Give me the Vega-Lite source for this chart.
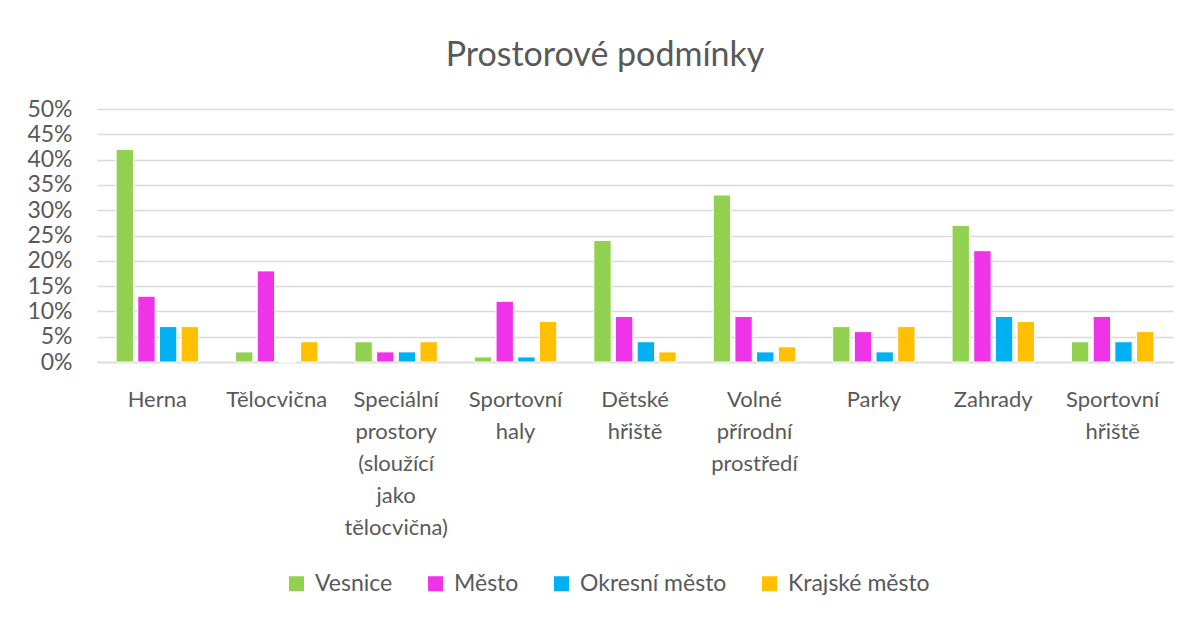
{
  "$schema": "https://vega.github.io/schema/vega-lite/v6.json",
  "autosize": {"type": "none"},
  "width": 1076,
  "height": 253,
  "padding": {"left": 97, "top": 109, "right": 18, "bottom": 256},
  "background": "white",
  "title": {"text": "Prostorové podmínky", "fontSize": 34, "fontWeight": "normal", "color": "#595959", "font": "Lato", "offset": 25, "dx": -30},
  "data": {"values": [
    {"cat": "Herna", "s": "Vesnice", "v": 0.42}, {"cat": "Herna", "s": "Město", "v": 0.13}, {"cat": "Herna", "s": "Okresní město", "v": 0.07}, {"cat": "Herna", "s": "Krajské město", "v": 0.07},
    {"cat": "Tělocvična", "s": "Vesnice", "v": 0.02}, {"cat": "Tělocvična", "s": "Město", "v": 0.18}, {"cat": "Tělocvična", "s": "Okresní město", "v": 0.0}, {"cat": "Tělocvična", "s": "Krajské město", "v": 0.04},
    {"cat": "Speciální prostory (sloužící jako tělocvična)", "s": "Vesnice", "v": 0.04}, {"cat": "Speciální prostory (sloužící jako tělocvična)", "s": "Město", "v": 0.02}, {"cat": "Speciální prostory (sloužící jako tělocvična)", "s": "Okresní město", "v": 0.02}, {"cat": "Speciální prostory (sloužící jako tělocvična)", "s": "Krajské město", "v": 0.04},
    {"cat": "Sportovní haly", "s": "Vesnice", "v": 0.01}, {"cat": "Sportovní haly", "s": "Město", "v": 0.12}, {"cat": "Sportovní haly", "s": "Okresní město", "v": 0.01}, {"cat": "Sportovní haly", "s": "Krajské město", "v": 0.08},
    {"cat": "Dětské hřiště", "s": "Vesnice", "v": 0.24}, {"cat": "Dětské hřiště", "s": "Město", "v": 0.09}, {"cat": "Dětské hřiště", "s": "Okresní město", "v": 0.04}, {"cat": "Dětské hřiště", "s": "Krajské město", "v": 0.02},
    {"cat": "Volné přírodní prostředí", "s": "Vesnice", "v": 0.33}, {"cat": "Volné přírodní prostředí", "s": "Město", "v": 0.09}, {"cat": "Volné přírodní prostředí", "s": "Okresní město", "v": 0.02}, {"cat": "Volné přírodní prostředí", "s": "Krajské město", "v": 0.03},
    {"cat": "Parky", "s": "Vesnice", "v": 0.07}, {"cat": "Parky", "s": "Město", "v": 0.06}, {"cat": "Parky", "s": "Okresní město", "v": 0.02}, {"cat": "Parky", "s": "Krajské město", "v": 0.07},
    {"cat": "Zahrady", "s": "Vesnice", "v": 0.27}, {"cat": "Zahrady", "s": "Město", "v": 0.22}, {"cat": "Zahrady", "s": "Okresní město", "v": 0.09}, {"cat": "Zahrady", "s": "Krajské město", "v": 0.08},
    {"cat": "Sportovní hřiště", "s": "Vesnice", "v": 0.04}, {"cat": "Sportovní hřiště", "s": "Město", "v": 0.09}, {"cat": "Sportovní hřiště", "s": "Okresní město", "v": 0.04}, {"cat": "Sportovní hřiště", "s": "Krajské město", "v": 0.06}
  ]},
  "mark": {"type": "bar", "stroke": "white", "strokeWidth": 1},
  "encoding": {
    "x": {"field": "cat", "type": "nominal", "sort": null, "scale": {"paddingInner": 0.31, "paddingOuter": 0.16},
      "axis": {"title": null, "labelAngle": 0, "labelExpr": "split(datum.label, ' ')", "labelFont": "Lato", "labelFontSize": 22, "labelColor": "#595959", "labelLineHeight": 32, "labelPadding": 27, "ticks": false, "domainColor": "#d9d9d9", "domainWidth": 1.5, "labelBaseline": "top"}},
    "xOffset": {"field": "s", "type": "nominal", "sort": ["Vesnice", "Město", "Okresní město", "Krajské město"], "scale": {"paddingInner": 0.2}},
    "y": {"field": "v", "type": "quantitative", "scale": {"domain": [0, 0.5]},
      "axis": {"title": null, "format": ".0%", "values": [0, 0.05, 0.1, 0.15, 0.2, 0.25, 0.3, 0.35, 0.4, 0.45, 0.5], "labelOverlap": false, "labelFont": "Lato", "labelFontSize": 23, "labelColor": "#595959", "labelPadding": 25, "ticks": false, "domain": false, "gridColor": "#d9d9d9", "gridWidth": 1.5}},
    "color": {"field": "s", "type": "nominal", "sort": ["Vesnice", "Město", "Okresní město", "Krajské město"],
      "scale": {"domain": ["Vesnice", "Město", "Okresní město", "Krajské město"], "range": ["#92D050", "#EE33E8", "#00B0F0", "#FFC000"]},
      "legend": {"title": null, "orient": "none", "direction": "horizontal", "legendX": 188, "legendY": 463, "symbolType": "square", "symbolSize": 225, "symbolStrokeWidth": 0, "labelFont": "Lato", "labelFontSize": 23, "labelColor": "#595959", "columnPadding": 31, "labelOffset": 7}}
  },
  "config": {"view": {"stroke": null}}
}
